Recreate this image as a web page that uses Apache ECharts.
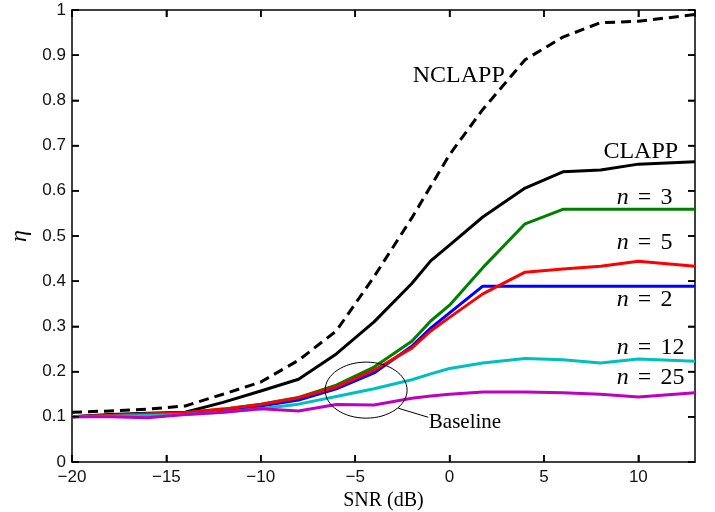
<!DOCTYPE html>
<html>
<head>
<meta charset="utf-8">
<script src="https://cdn.jsdelivr.net/npm/echarts@6/dist/echarts.min.js"></script>
<style>
  html, body { margin: 0; padding: 0; background: #fff; }
  #chart { width: 715px; height: 512px; }
</style>
</head>
<body>
<div id="chart"></div>
<script>
// SNR points (dB)
const snr = [-20, -18, -16, -14, -12, -10, -8, -6, -4, -2, -1, 0, 1.76, 4, 6, 8, 10, 13];

// eta values
const nclapp = [0.110, 0.113, 0.117, 0.124, 0.150, 0.177, 0.225, 0.290, 0.410, 0.540, 0.610, 0.680, 0.780, 0.890, 0.940, 0.972, 0.975, 0.990];
const clapp  = [0.100, 0.105, 0.108, 0.110, 0.132, 0.157, 0.183, 0.239, 0.310, 0.395, 0.445, 0.480, 0.542, 0.606, 0.642, 0.646, 0.659, 0.664];
const n2     = [0.100, 0.103, 0.106, 0.108, 0.115, 0.124, 0.137, 0.162, 0.197, 0.256, 0.296, 0.330, 0.389, 0.389, 0.389, 0.389, 0.389, 0.389];
const n3     = [0.100, 0.103, 0.106, 0.109, 0.117, 0.128, 0.143, 0.170, 0.210, 0.267, 0.312, 0.347, 0.430, 0.527, 0.559, 0.559, 0.559, 0.559];
const n5     = [0.100, 0.103, 0.106, 0.109, 0.117, 0.127, 0.142, 0.166, 0.203, 0.252, 0.290, 0.320, 0.372, 0.420, 0.427, 0.433, 0.444, 0.433];
const n12    = [0.100, 0.101, 0.103, 0.105, 0.110, 0.118, 0.128, 0.145, 0.162, 0.182, 0.195, 0.207, 0.219, 0.229, 0.226, 0.219, 0.228, 0.223];
const n25    = [0.100, 0.100, 0.098, 0.105, 0.110, 0.118, 0.113, 0.127, 0.126, 0.141, 0.146, 0.150, 0.155, 0.155, 0.153, 0.150, 0.144, 0.153];

// tick positions
const xTickVals = [-20, -15, -10, -5, 0, 5, 10];
const yTickVals = [0, 0.1, 0.2, 0.3, 0.4, 0.5, 0.6, 0.7, 0.8, 0.9, 1];
const xRange = [-20, 13];
const yRange = [0, 1];

const pairs = ys => snr.map((x, i) => [x, ys[i]]);

const serif = '"Liberation Serif", "DejaVu Serif", serif';
const sans = '"Liberation Sans", Arial, sans-serif';

const chart = echarts.init(document.getElementById('chart'));

function line(name, ys, color, dashed) {
  return {
    name: name, type: 'line', data: pairs(ys), symbol: 'none', silent: true,
    lineStyle: { color: color, width: 3, type: dashed ? [10, 6] : 'solid', cap: 'butt', join: 'round' },
    z: 3
  };
}

const axisLineStyle = () => ({ show: true, onZero: false, lineStyle: { color: '#000', width: 1.5 } });
const tickStyle = () => ({ show: true, inside: true, length: 7, lineStyle: { color: '#000', width: 1.5 } });
const noSplit = () => ({ show: true, lineStyle: { color: 'rgba(0,0,0,0)' } });

chart.setOption({
  animation: false,
  grid: { left: 72, right: 20, top: 10, bottom: 50, outerBoundsMode: 'none' },
  xAxis: [{
    type: 'value', min: xRange[0], max: xRange[1], interval: 5,
    name: 'SNR (dB)', nameLocation: 'middle', nameGap: 28,
    nameTextStyle: { fontFamily: serif, fontSize: 20, color: '#000' },
    axisLine: axisLineStyle(), axisTick: tickStyle(), splitLine: noSplit(),
    axisLabel: { showMaxLabel: false, margin: 7, fontFamily: sans, fontSize: 17, color: '#111',
      formatter: v => String(v).replace('-', '\u2212') }
  }, {
    type: 'value', position: 'top', min: xRange[0], max: xRange[1], interval: 5,
    axisLine: axisLineStyle(), axisTick: tickStyle(), axisLabel: { show: false }, splitLine: noSplit()
  }],
  yAxis: [{
    type: 'value', min: yRange[0], max: yRange[1], interval: 0.1,
    name: '\u03b7', nameLocation: 'middle', nameGap: 40,
    nameTextStyle: { fontFamily: serif, fontSize: 24, fontStyle: 'italic', color: '#000' },
    axisLine: axisLineStyle(), axisTick: tickStyle(), splitLine: noSplit(),
    axisLabel: { margin: 6, fontFamily: sans, fontSize: 17, color: '#111',
      formatter: v => (Math.round(v * 10) / 10).toString() }
  }, {
    type: 'value', position: 'right', min: yRange[0], max: yRange[1], interval: 0.1,
    axisLine: axisLineStyle(), axisTick: tickStyle(), axisLabel: { show: false }, splitLine: noSplit()
  }],
  series: [
    line('NCLAPP', nclapp, '#000000', true),
    line('CLAPP', clapp, '#000000'),
    line('n = 2', n2, '#0000ff'),
    line('n = 3', n3, '#008000'),
    line('n = 5', n5, '#ff0000'),
    line('n = 12', n12, '#00bfbf'),
    line('n = 25', n25, '#bf00bf')
  ]
});

// annotations placed in data coordinates
const px = p => chart.convertToPixel({ xAxisIndex: 0, yAxisIndex: 0 }, p);

const labels = [
  { text: 'NCLAPP', at: [-1.95, 0.854] },
  { text: 'CLAPP', at: [8.15, 0.686] },
  { text: '{i|n} {e|=} 3', at: [8.86, 0.584] },
  { text: '{i|n} {e|=} 5', at: [8.86, 0.485] },
  { text: '{i|n} {e|=} 2', at: [8.86, 0.358] },
  { text: '{i|n} {e|=} 12', at: [8.86, 0.252] },
  { text: '{i|n} {e|=} 25', at: [8.86, 0.186] },
  { text: 'Baseline', at: [-1.1, 0.088], size: 21 }
];

const graphics = labels.map(l => {
  const p = px(l.at);
  return {
    type: 'text', x: p[0], y: p[1], z: 10,
    style: {
      text: l.text, fill: '#000', font: (l.size || 24) + 'px ' + serif,
      verticalAlign: 'middle', align: 'left',
      rich: {
        i: { fontStyle: 'italic', fontFamily: serif, fontSize: 24 },
        e: { fontFamily: serif, fontSize: 24, padding: [0, 3, 0, 3] }
      }
    }
  };
});

// inward ticks on all four sides of the box (backup for axisTick)
const TICK = 7;
const tick = (x1, y1, x2, y2) => ({
  type: 'line', z: 20,
  shape: { x1: x1, y1: y1, x2: x2, y2: y2 },
  style: { stroke: '#000', lineWidth: 1.5 }
});
xTickVals.forEach(v => {
  const bot = px([v, yRange[0]]);
  const top = px([v, yRange[1]]);
  graphics.push(tick(bot[0], bot[1], bot[0], bot[1] - TICK));
  graphics.push(tick(top[0], top[1], top[0], top[1] + TICK));
});
yTickVals.forEach(v => {
  const lft = px([xRange[0], v]);
  const rgt = px([xRange[1], v]);
  graphics.push(tick(lft[0], lft[1], lft[0] + TICK, lft[1]));
  graphics.push(tick(rgt[0], rgt[1], rgt[0] - TICK, rgt[1]));
});

const c = px([-4.42, 0.159]);
const e = px([-4.42 + 2.17, 0.159 + 0.062]);
graphics.push({
  type: 'ellipse', z: 10,
  shape: { cx: c[0], cy: c[1], rx: e[0] - c[0], ry: c[1] - e[1] },
  style: { fill: 'none', stroke: '#000', lineWidth: 1 }
});
const a = px([-2.72, 0.119]);
const b = px([-1.13, 0.099]);
graphics.push({
  type: 'line', z: 10,
  shape: { x1: a[0], y1: a[1], x2: b[0], y2: b[1] },
  style: { stroke: '#000', lineWidth: 1 }
});

chart.setOption({ graphic: graphics });
</script>
</body>
</html>
